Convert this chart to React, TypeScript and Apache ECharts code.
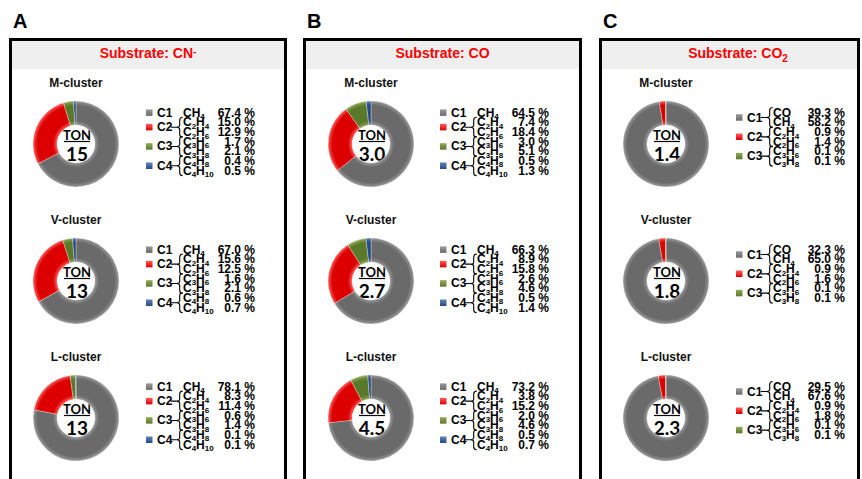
import React, { useEffect, useRef } from 'react';
import * as echarts from 'echarts';

// ---------- data ----------
const panelLetters = ['A', 'B', 'C'];
const substrateTitles = ['{t|Substrate: CN}{sup|-}', '{t|Substrate: CO}', '{t|Substrate: CO}{sub|2}'];
const clusterNames = ['M-cluster', 'V-cluster', 'L-cluster'];
const groupNames = ['C1', 'C2', 'C3', 'C4'];

const productsAB = ['CH4', 'C2H4', 'C2H6', 'C3H6', 'C3H8', 'C4H8', 'C4H10'];
const groupsAB = [[0], [1, 2], [3, 4], [5, 6]];
const productsC = ['CO', 'CH4', 'C2H4', 'C2H6', 'C3H6', 'C3H8'];
const groupsC = [[0, 1], [2, 3], [4, 5]];

const tonCN = ['15', '13', '13'];
const tonCO = ['3.0', '2.7', '4.5'];
const tonCO2 = ['1.4', '1.8', '2.3'];

const cnM = [67.4, 15.0, 12.9, 1.7, 2.1, 0.4, 0.5];
const cnV = [67.0, 15.6, 12.5, 1.6, 2.1, 0.6, 0.7];
const cnL = [78.1, 8.3, 11.4, 0.6, 1.4, 0.1, 0.1];
const coM = [64.5, 7.4, 18.4, 3.0, 5.1, 0.5, 1.3];
const coV = [66.3, 8.9, 15.8, 2.6, 4.6, 0.5, 1.4];
const coL = [73.2, 3.8, 15.2, 2.0, 4.6, 0.5, 0.7];
const co2M = [39.3, 58.2, 0.9, 1.4, 0.1, 0.1];
const co2V = [32.3, 65.0, 0.9, 1.6, 0.1, 0.1];
const co2L = [29.5, 67.6, 0.9, 1.8, 0.1, 0.1];

// ---------- layout / style ----------
const panelX = [9, 303, 599];
const panelW = [278, 279, 261];
const donutDX = [67, 68, 67];
const rowCY = [144, 281, 418];
const FONT = '"Liberation Sans", Arial, Helvetica, sans-serif';
const TONFONT = 'Lato, "Open Sans", sans-serif';
const baseColors = ['#6a6a6a', '#dd0000', '#5a782a', '#284a84'];
const lightColors = ['#9a9a9a', '#ff5a5a', '#92ac58', '#6284bc'];

echarts.graphic.registerShape(
  'brace',
  echarts.graphic.extendPath(
    'M-6,0 L0,0 M6,-10 Q3,-10 3,-7 L3,-2.2 Q3,0 0,0 Q3,0 3,2.2 L3,7 Q3,10 6,10',
    {}
  )
);

function formulaRich(f: string) {
  const toks = f.match(/[A-Za-z]+|\d+/g) || [];
  return toks.map((t) => (/\d/.test(t) ? `{s|${t}}` : `{m|${t}}`)).join('');
}

function ringGrad(gi: number, cx: number, cy: number) {
  return {
    type: 'radial',
    x: cx,
    y: cy,
    r: 43,
    global: true,
    colorStops: [
      { offset: 0, color: lightColors[gi] },
      { offset: 0.44, color: lightColors[gi] },
      { offset: 0.54, color: baseColors[gi] },
      { offset: 0.9, color: baseColors[gi] },
      { offset: 1, color: lightColors[gi] },
    ],
  };
}

export default function App() {
  const ref = useRef<HTMLDivElement>(null);
  useEffect(() => {
    if (!ref.current) return;
    const chart = echarts.init(ref.current, undefined, { renderer: 'svg' });

    const panelValues = [
      [cnM, cnV, cnL],
      [coM, coV, coL],
      [co2M, co2V, co2L],
    ];
    const panelTon = [tonCN, tonCO, tonCO2];

    const graphics: any[] = [];
    const series: any[] = [];

    for (let p = 0; p < 3; p++) {
      const ox = panelX[p];
      const W = panelW[p];
      const products = p < 2 ? productsAB : productsC;
      const groups = p < 2 ? groupsAB : groupsC;

      graphics.push({
        type: 'text',
        x: ox + 4,
        y: 21,
        style: { text: panelLetters[p], font: `bold 20px ${FONT}`, fill: '#000', verticalAlign: 'middle' },
      });
      graphics.push({
        type: 'rect',
        shape: { x: ox + 3, y: 41, width: W - 6, height: 28 },
        style: { fill: '#efefef' },
      });
      graphics.push({
        type: 'rect',
        shape: { x: ox + 1.5, y: 39.5, width: W - 3, height: 460 },
        style: { fill: 'none', stroke: '#000', lineWidth: 3 },
      });
      const titleX = p === 2 ? 738 : ox + W / 2;
      graphics.push({
        type: 'text',
        x: titleX,
        y: 54 - 8,
        style: {
          text: substrateTitles[p],
          textAlign: 'center',
          verticalAlign: 'top',
          rich: {
            t: { fontFamily: FONT, fontWeight: 'bold', fontSize: 14, lineHeight: 16, fill: '#ff0000', verticalAlign: 'top' },
            sup: { fontFamily: FONT, fontWeight: 'bold', fontSize: 10, lineHeight: 8, fill: '#ff0000', verticalAlign: 'top' },
            sub: { fontFamily: FONT, fontWeight: 'bold', fontSize: 10, lineHeight: 24, fill: '#ff0000', verticalAlign: 'middle' },
          },
        },
      });

      for (let r = 0; r < 3; r++) {
        const cx = ox + donutDX[p];
        const cy = rowCY[r];
        const vals = panelValues[p][r];
        const sums = groups.map((g) => Math.round(g.reduce((a, i) => a + vals[i], 0) * 10) / 10);

        series.push({
          type: 'pie',
          center: [cx, cy],
          radius: [19, 43],
          startAngle: 90,
          clockwise: true,
          silent: true,
          label: { show: false },
          labelLine: { show: false },
          emphasis: { disabled: true },
          itemStyle: { borderColor: 'rgba(255,255,255,0.5)', borderWidth: 0.6 },
          data: sums.map((v, gi) => ({ value: v, name: groupNames[gi], itemStyle: { color: ringGrad(gi, cx, cy) } })),
        });

        graphics.push({
          type: 'text',
          x: cx,
          y: cy - 61,
          style: { text: clusterNames[r], font: `bold 12px ${FONT}`, fill: '#111', textAlign: 'center', verticalAlign: 'middle' },
        });
        graphics.push({
          type: 'text',
          x: cx + 1,
          y: cy - 9,
          style: { text: 'TON', font: `bold 13px ${TONFONT}`, fill: '#000', textAlign: 'center', verticalAlign: 'middle' },
        });
        graphics.push({
          type: 'line',
          shape: { x1: cx - 12, y1: cy - 2.5, x2: cx + 14, y2: cy - 2.5 },
          style: { stroke: '#000', lineWidth: 1.2 },
        });
        graphics.push({
          type: 'text',
          x: cx + 1,
          y: cy + 9.5,
          style: { text: panelTon[p][r], font: `bold 19px ${TONFONT}`, fill: '#000', textAlign: 'center', verticalAlign: 'middle' },
        });

        const y0 = cy - 31.3;
        const step = 9.65;
        groups.forEach((g, gi) => {
          const ys = g.map((i) => y0 + i * step);
          const ly = ys.reduce((a, b) => a + b, 0) / ys.length;
          graphics.push({
            type: 'rect',
            shape: { x: ox + 137, y: ly - 3.3, width: 6.5, height: 6.5 },
            style: {
              fill: {
                type: 'linear', x: 0, y: 0, x2: 0, y2: 1,
                colorStops: [
                  { offset: 0, color: lightColors[gi] },
                  { offset: 1, color: baseColors[gi] },
                ],
              },
            },
          });
          graphics.push({
            type: 'text',
            x: ox + 148,
            y: ly,
            style: { text: groupNames[gi], font: `bold 12px ${FONT}`, fill: '#000', verticalAlign: 'middle' },
          });
          if (g.length > 1) {
            graphics.push({
              type: 'brace',
              x: ox + 167.7,
              y: ly,
              style: { fill: 'none', stroke: '#000', lineWidth: 1.1 },
            });
          }
          g.forEach((i, k) => {
            graphics.push({
              type: 'text',
              x: ox + 174,
              y: ys[k] - 6,
              style: {
                text: formulaRich(products[i]),
                verticalAlign: 'top',
                rich: {
                  m: { fontFamily: FONT, fontWeight: 'bold', fontSize: 12, lineHeight: 12, fill: '#000', verticalAlign: 'top' },
                  s: { fontFamily: FONT, fontWeight: 'bold', fontSize: 8, lineHeight: 20, fill: '#000', verticalAlign: 'middle' },
                },
              },
            });
            graphics.push({
              type: 'text',
              x: ox + 246,
              y: ys[k],
              style: { text: `${vals[i].toFixed(1)} %`, font: `bold 12px ${FONT}`, fill: '#000', textAlign: 'right', verticalAlign: 'middle' },
            });
          });
        });
      }
    }

    chart.setOption({
      animation: false,
      backgroundColor: '#ffffff',
      series,
      graphic: { elements: graphics },
    });
    return () => chart.dispose();
  }, []);

  return <div ref={ref} style={{ position: 'fixed', left: 0, top: 0, width: 862, height: 479 }} />;
}
